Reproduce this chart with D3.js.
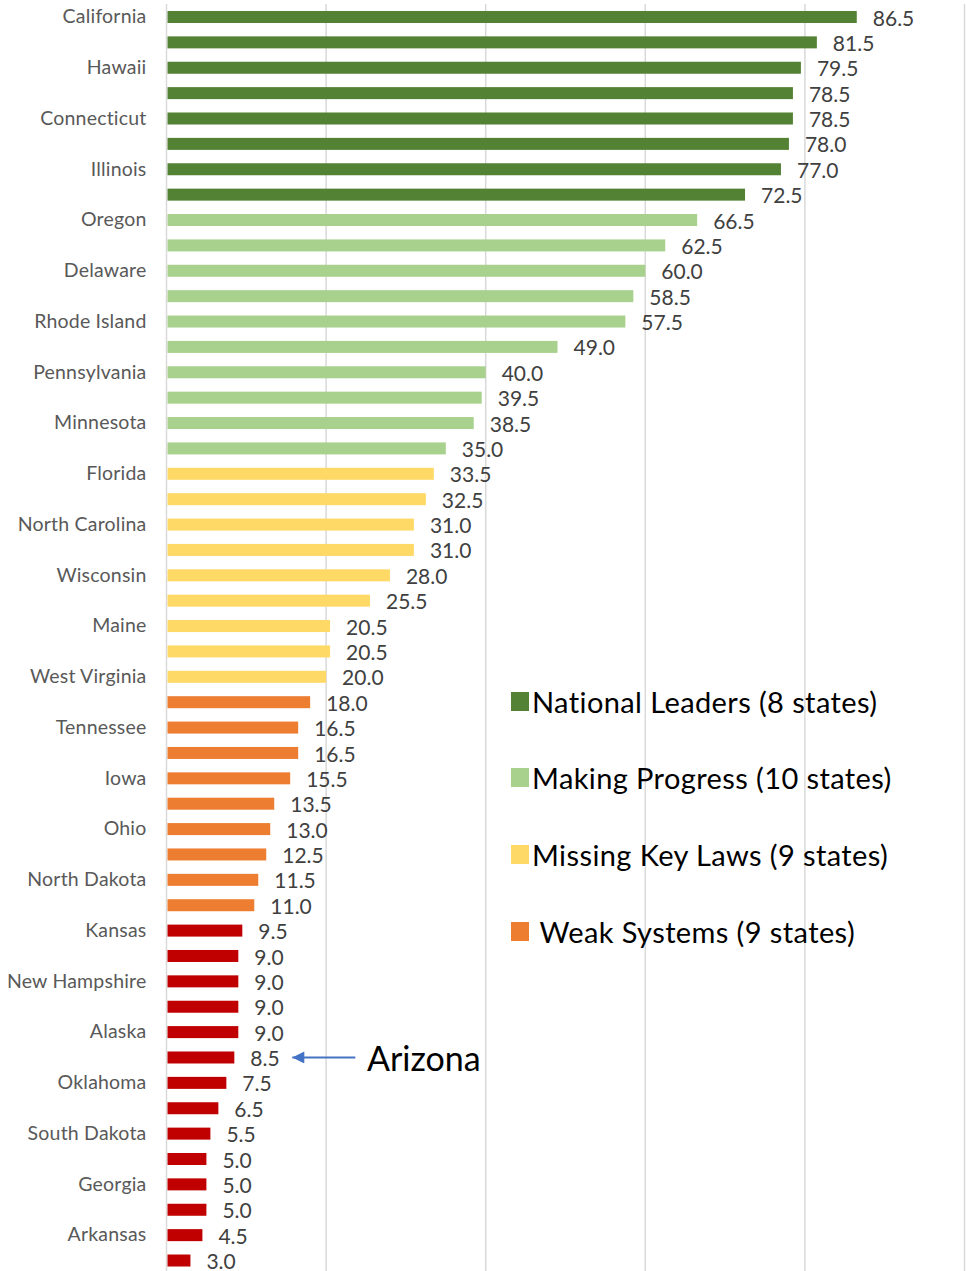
<!DOCTYPE html>
<html><head><meta charset="utf-8">
<script src="https://cdn.jsdelivr.net/npm/d3@7"></script>
<style>html,body{margin:0;padding:0;background:#fff;}svg{display:block;}</style>
</head><body>
<svg id="chart" width="966" height="1271"></svg>
<script>
const states = ["California","Washington","Hawaii","Massachusetts","Connecticut","New Jersey","Illinois","New York",
"Oregon","Maryland","Delaware","Colorado","Rhode Island","Vermont","Pennsylvania","Virginia","Minnesota","Michigan",
"Florida","Nevada","North Carolina","New Mexico","Wisconsin","Utah","Maine","Kentucky","West Virginia",
"Indiana","Tennessee","Missouri","Iowa","Nebraska","Ohio","Louisiana","North Dakota","Texas",
"Kansas","Idaho","New Hampshire","Montana","Alaska","Arizona","Oklahoma","Mississippi","South Dakota","Alabama","Georgia","South Carolina","Arkansas","Wyoming"];
const scores = [86.5,81.5,79.5,78.5,78.5,78.0,77.0,72.5,
66.5,62.5,60.0,58.5,57.5,49.0,40.0,39.5,38.5,35.0,
33.5,32.5,31.0,31.0,28.0,25.5,20.5,20.5,20.0,
18.0,16.5,16.5,15.5,13.5,13.0,12.5,11.5,11.0,
9.5,9.0,9.0,9.0,9.0,8.5,7.5,6.5,5.5,5.0,5.0,5.0,4.5,3.0];
const groups = [0,0,0,0,0,0,0,0, 1,1,1,1,1,1,1,1,1,1, 2,2,2,2,2,2,2,2,2, 3,3,3,3,3,3,3,3,3, 4,4,4,4,4,4,4,4,4,4,4,4,4,4];
const groupColors = ["#548235","#A9D18E","#FFD966","#ED7D31","#C00000"];
const legendLabels = ["National Leaders (8 states)","Making Progress (10 states)","Missing Key Laws (9 states)"," Weak Systems (9 states)"];
const xTicks = [0,20,40,60,80,100];
const highlight = "Arizona";

const svg = d3.select("#chart");
const font = "Lato, 'Open Sans', sans-serif";
const x = d3.scaleLinear().domain([0,100]).range([166.5,964.5]);
const y = d3.scaleBand().domain(states).range([4.3,1273.2]).paddingInner(0.527).paddingOuter(0.2635);

// gridlines
svg.append("g").selectAll("line").data(xTicks).join("line")
  .attr("x1",d=>x(d)).attr("x2",d=>x(d)).attr("y1",4).attr("y2",1271)
  .attr("stroke","#d9d9d9").attr("stroke-width",1.5);

// bars
svg.append("g").selectAll("rect").data(states).join("rect")
  .attr("x",x(0)+1).attr("y",d=>y(d))
  .attr("width",(d,i)=>x(scores[i])-x(0)-1).attr("height",y.bandwidth())
  .attr("fill",(d,i)=>groupColors[groups[i]]);

// value labels
svg.append("g").selectAll("text").data(states).join("text")
  .attr("x",(d,i)=>x(scores[i])+16).attr("y",d=>y(d)+y.bandwidth()/2+1)
  .attr("dy","0.36em")
  .attr("font-family",font).attr("font-size",21).attr("fill","#404040")
  .text((d,i)=>scores[i].toFixed(1));

// y axis labels (every other)
const yAxis = d3.axisLeft(y).tickSize(0).tickPadding(20)
  .tickFormat((d,i)=> i%2===0 ? d : "");
const ya = svg.append("g").attr("transform",`translate(${x(0)},0)`).call(yAxis);
ya.select(".domain").remove();
ya.selectAll("text").attr("font-family",font).attr("font-size",19.5)
  .attr("letter-spacing","0.2px").attr("fill","#595959");

// legend
const lg = svg.append("g");
const ly = [703,779,856,933];
legendLabels.forEach((t,i)=>{
  lg.append("rect").attr("x",511).attr("y",ly[i]-11).attr("width",18).attr("height",19).attr("fill",groupColors[i]);
  lg.append("text").attr("x",532).attr("y",ly[i]).attr("dy","0.35em")
    .attr("font-family",font).attr("font-size",29).attr("letter-spacing","0.4px").attr("fill","#000")
    .attr("xml:space","preserve").style("white-space","pre").text(t);
});

// Arizona annotation
const ai = states.indexOf(highlight);
const ay = y(highlight)+y.bandwidth()/2;
const tipX = x(scores[ai]) + 58;
svg.append("defs").append("marker").attr("id","arr").attr("viewBox","0 0 10 10")
  .attr("refX",10).attr("refY",5).attr("markerWidth",15).attr("markerHeight",12)
  .attr("markerUnits","userSpaceOnUse").attr("orient","auto")
  .append("path").attr("d","M0,0L10,5L0,10Z").attr("fill","#4472C4");
svg.append("line").attr("x1",tipX+63).attr("x2",tipX).attr("y1",ay).attr("y2",ay)
  .attr("stroke","#4472C4").attr("stroke-width",2)
  .attr("marker-end","url(#arr)");
svg.append("text").attr("x",367).attr("y",ay+1).attr("dy","0.36em")
  .attr("font-family",font).attr("font-size",34).attr("fill","#000").text(highlight);
</script>
</body></html>
